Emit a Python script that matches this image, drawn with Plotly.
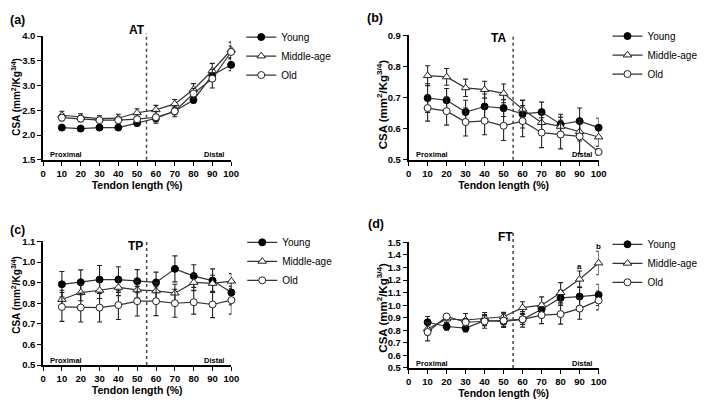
import plotly.graph_objects as go

W, H = 709, 407

x_pct = [10, 20, 30, 40, 50, 60, 70, 80, 90, 100]
groups = ["Young", "Middle-age", "Old"]

AT_young = [2.15, 2.13, 2.15, 2.15, 2.24, 2.34, 2.48, 2.71, 3.21, 3.42]
AT_young_err = [0.04, 0.04, 0.04, 0.04, 0.04, 0.06, 0.07, 0.06, 0.10, 0.12]
AT_mid = [2.40, 2.36, 2.33, 2.34, 2.45, 2.51, 2.63, 2.92, 3.30, 3.72]
AT_mid_err = [0.08, 0.07, 0.06, 0.08, 0.08, 0.09, 0.09, 0.12, 0.15, 0.16]
AT_old = [2.35, 2.33, 2.30, 2.30, 2.32, 2.36, 2.48, 2.84, 3.14, 3.68]
AT_old_err = [0.06, 0.06, 0.05, 0.06, 0.06, 0.12, 0.11, 0.10, 0.19, 0.12]

TA_young = [0.698, 0.691, 0.653, 0.671, 0.666, 0.647, 0.653, 0.614, 0.624, 0.603]
TA_young_err = [0.046, 0.038, 0.038, 0.040, 0.027, 0.045, 0.032, 0.032, 0.042, 0.030]
TA_mid = [0.770, 0.766, 0.731, 0.725, 0.713, 0.662, 0.619, 0.607, 0.590, 0.573]
TA_mid_err = [0.032, 0.027, 0.028, 0.027, 0.030, 0.028, 0.030, 0.030, 0.030, 0.030]
TA_old = [0.666, 0.656, 0.621, 0.625, 0.609, 0.624, 0.587, 0.581, 0.575, 0.525]
TA_old_err = [0.042, 0.045, 0.045, 0.045, 0.047, 0.050, 0.048, 0.046, 0.055, 0.010]

TP_young = [0.892, 0.902, 0.915, 0.915, 0.907, 0.901, 0.967, 0.932, 0.910, 0.852]
TP_young_err = [0.062, 0.060, 0.068, 0.062, 0.056, 0.050, 0.063, 0.055, 0.057, 0.060]
TP_mid = [0.818, 0.852, 0.863, 0.877, 0.865, 0.860, 0.849, 0.901, 0.896, 0.907]
TP_mid_err = [0.045, 0.040, 0.040, 0.040, 0.040, 0.040, 0.043, 0.040, 0.040, 0.037]
TP_old = [0.782, 0.779, 0.779, 0.791, 0.810, 0.810, 0.800, 0.805, 0.794, 0.815]
TP_old_err = [0.070, 0.070, 0.070, 0.070, 0.072, 0.070, 0.068, 0.058, 0.064, 0.068]

FT_young = [0.864, 0.830, 0.817, 0.877, 0.871, 0.887, 0.968, 1.058, 1.069, 1.082]
FT_young_err = [0.046, 0.030, 0.030, 0.040, 0.040, 0.040, 0.050, 0.060, 0.075, 0.085]
FT_mid = [0.812, 0.890, 0.882, 0.897, 0.908, 0.980, 1.000, 1.100, 1.207, 1.336]
FT_mid_err = [0.050, 0.030, 0.052, 0.045, 0.035, 0.047, 0.066, 0.080, 0.065, 0.094]
FT_old = [0.786, 0.910, 0.864, 0.871, 0.877, 0.887, 0.921, 0.929, 0.973, 1.038]
FT_old_err = [0.070, 0.020, 0.030, 0.055, 0.055, 0.062, 0.068, 0.080, 0.085, 0.075]

panels = [
    dict(label="(a)", title="AT", data=[(AT_young, AT_young_err), (AT_mid, AT_mid_err), (AT_old, AT_old_err)],
         yr=[1.5, 4.0], dt=0.5),
    dict(label="(b)", title="TA", data=[(TA_young, TA_young_err), (TA_mid, TA_mid_err), (TA_old, TA_old_err)],
         yr=[0.5, 0.9], dt=0.1),
    dict(label="(c)", title="TP", data=[(TP_young, TP_young_err), (TP_mid, TP_mid_err), (TP_old, TP_old_err)],
         yr=[0.5, 1.1], dt=0.1),
    dict(label="(d)", title="FT", data=[(FT_young, FT_young_err), (FT_mid, FT_mid_err), (FT_old, FT_old_err)],
         yr=[0.5, 1.5], dt=0.1),
]

# pixel geometry of each plot area: left, right, top, bottom
geo = [
    (40.7, 231.7, 31, 158),
    (412, 605, 30, 158),
    (40.7, 232, 242, 369),
    (412, 605, 243, 372),
]
label_pos = [(15, 14), (378, 12), (15, 230), (379, 224)]
title_pos = [(136, 25), (503, 33), (135, 247), (510, 237)]
legend_pos = [(242, 17), (614, 16), (243, 228), (614, 230)]
vline_top = [28, 29, 241, 233]
ytitle_pos = [(13.5, 93, 10), (385, 101, 11.5), (13, 297, 10), (385, 310, 11.5)]

FONT = "Arial, Liberation Sans, sans-serif"
LC = "#333333"

styles = [
    dict(symbol="circle", size=7, color="black", line=dict(color="black", width=1)),
    dict(symbol="triangle-up", size=7.5, color="white", line=dict(color="#222", width=1)),
    dict(symbol="circle", size=7, color="white", line=dict(color="#222", width=1)),
]

fig = go.Figure()
annotations = []
shapes = []

def px2x(p):
    return p / W

def px2y(p):
    return 1 - p / H

for i, p in enumerate(panels):
    n = i + 1
    xa = "x" if n == 1 else f"x{n}"
    ya = "y" if n == 1 else f"y{n}"
    lg = "legend" if n == 1 else f"legend{n}"
    for g, (vals, errs), st in zip(groups, p["data"], styles):
        fig.add_trace(go.Scatter(
            x=x_pct, y=vals, mode="lines+markers", name=g,
            xaxis=xa, yaxis=ya, legend=lg,
            line=dict(color=LC, width=1.2),
            marker=st,
            error_y=dict(type="data", array=errs, color="#222", thickness=1.1, width=2.5),
            cliponaxis=False,
        ))
    l, r, t, b = geo[i]
    xkey = "xaxis" if n == 1 else f"xaxis{n}"
    ykey = "yaxis" if n == 1 else f"yaxis{n}"
    fig.layout[xkey] = dict(
        domain=[px2x(l), px2x(r)], range=[0, 100], anchor=ya,
        tickmode="array", tickvals=list(range(0, 101, 10)),
        showline=True, linecolor="black", linewidth=1.6,
        ticks="outside", ticklen=4, tickwidth=1.4, tickcolor="black",
        showgrid=False, zeroline=False,
        tickfont=dict(family=FONT, size=9.5, color="black", weight="bold"),
        title=dict(text="Tendon length (%)", font=dict(family=FONT, size=10.5, color="black", weight="bold"), standoff=3),
    )
    ntick = round((p["yr"][1] - p["yr"][0]) / p["dt"])
    tv = [round(p["yr"][0] + k * p["dt"], 2) for k in range(ntick + 1)]
    fig.layout[ykey] = dict(
        domain=[px2y(b), px2y(t)], range=p["yr"], anchor=xa,
        tickmode="array", tickvals=tv, ticktext=[f"{v:.1f}" for v in tv],
        showline=True, linecolor="black", linewidth=1.6,
        ticks="outside", ticklen=4, tickwidth=1.4, tickcolor="black",
        showgrid=False, zeroline=False,
        tickfont=dict(family=FONT, size=9.5, color="black", weight="bold"),
    )
    # y-axis title
    yx, yy, ys = ytitle_pos[i]
    annotations.append(dict(
        text="CSA (mm<sup>2</sup>/Kg<sup>3/4</sup>)", textangle=-90,
        x=px2x(yx), y=px2y(yy), xref="paper", yref="paper",
        showarrow=False, xanchor="center", yanchor="middle",
        font=dict(family=FONT, size=ys, color="black", weight="bold"),
    ))
    lx, ly = label_pos[i]
    annotations.append(dict(text=p["label"], x=px2x(lx), y=px2y(ly), xref="paper", yref="paper",
                            showarrow=False, xanchor="center", yanchor="middle",
                            font=dict(family=FONT, size=12.5, color="black", weight="bold")))
    tx, ty = title_pos[i]
    annotations.append(dict(text=p["title"], x=px2x(tx), y=px2y(ty), xref="paper", yref="paper",
                            showarrow=False, xanchor="center", yanchor="middle",
                            font=dict(family=FONT, size=12, color="black", weight="bold")))
    annotations.append(dict(text="Proximal", x=px2x(l + 5), y=px2y(b - 5), xref="paper", yref="paper",
                            showarrow=False, xanchor="left", yanchor="middle",
                            font=dict(family=FONT, size=7.5, color="black", weight="bold")))
    annotations.append(dict(text="Distal", x=px2x(r - 5), y=px2y(b - 5), xref="paper", yref="paper",
                            showarrow=False, xanchor="right", yanchor="middle",
                            font=dict(family=FONT, size=7.5, color="black", weight="bold")))
    shapes.append(dict(type="line", xref=xa, yref="paper", x0=55, x1=55,
                       y0=px2y(b), y1=px2y(vline_top[i]),
                       line=dict(color="#444", width=1.5, dash="dot")))
    gx, gy = legend_pos[i]
    fig.layout[lg] = dict(x=px2x(gx), y=px2y(gy), xanchor="left", yanchor="top",
                          font=dict(family=FONT, size=10, color="black"),
                          bgcolor="rgba(0,0,0,0)", itemwidth=30, tracegroupgap=0,
                          traceorder="normal")

# significance letters in panel (d)
annotations.append(dict(text="a", x=90, y=FT_mid[8] + FT_mid_err[8] + 0.035, xref="x4", yref="y4",
                        showarrow=False, font=dict(family=FONT, size=8, color="black", weight="bold")))
annotations.append(dict(text="b", x=100, y=FT_mid[9] + FT_mid_err[9] + 0.035, xref="x4", yref="y4",
                        showarrow=False, font=dict(family=FONT, size=8, color="black", weight="bold")))

fig.update_layout(
    width=W, height=H, margin=dict(l=0, r=0, t=0, b=0),
    paper_bgcolor="white", plot_bgcolor="white",
    annotations=annotations, shapes=shapes, showlegend=True,
)

fig.write_html("out.html", config={"displayModeBar": False},
               post_script="document.body.style.margin='0';document.body.style.overflow='hidden';")
